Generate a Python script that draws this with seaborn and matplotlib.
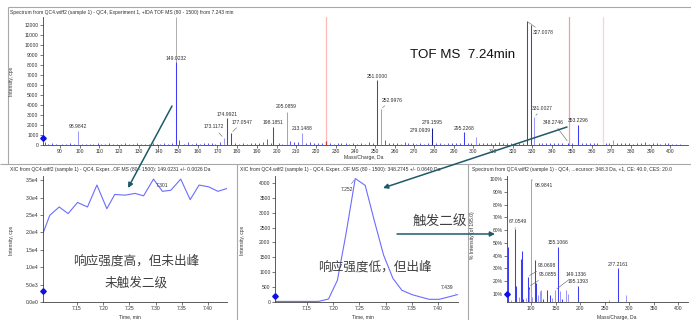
import matplotlib
matplotlib.use("Agg")
import matplotlib.pyplot as plt
import pandas as pd
import seaborn as sns

# ---------------- TOF MS survey scan, 7.243 min ----------------
ms1_mz = [98.9842, 149.0232, 173.1172, 174.9921, 177.0547, 198.1851, 205.0859,
          213.1488, 251.0000, 252.9976, 279.0939, 279.1595, 295.2268, 301.1,
          327.0078, 329.0050, 331.0027, 348.2746, 353.2296, 371.1]
ms1_int = [1400, 8300, 700, 2700, 1200, 1800, 3300,
           1200, 6500, 3600, 800, 1700, 1300, 800,
           12400, 12000, 2800, 250, 2000, 500]
ms1_tone = ["light", "strong", "light", "strong", "strong", "strong", "light",
            "light", "strong", "light", "strong", "dark", "strong", "light",
            "strong", "strong", "light", "strong", "strong", "light"]
ms1_labels = ["98.9842", "149.0232", "173.1172", "174.9921", "177.0547", "198.1851", "205.0859",
              "213.1488", "251.0000", "252.9976", "279.0939", "279.1595", "295.2268", "",
              "327.0078", "", "331.0027", "348.2746", "353.2296", ""]

# low-level background ions of the survey scan
noise_mz = [
    82.5, 84.1, 86.0, 88.2, 91.0, 93.1, 95.1, 97.0, 101.1, 103.0,
    105.1, 107.0, 109.1, 111.1, 113.0, 115.1, 117.0, 119.1, 121.0, 123.1,
    125.1, 127.0, 129.1, 131.0, 133.1, 135.0, 137.1, 139.1, 141.0, 143.1,
    145.0, 147.1, 150.5, 153.1, 155.1, 157.0, 159.1, 161.0, 163.1, 165.0,
    167.1, 169.0, 171.1, 179.1, 181.0, 183.1, 185.0, 187.1, 189.0, 191.1,
    193.0, 195.1, 197.0, 201.1, 203.0, 207.1, 209.0, 211.1, 215.0, 217.1,
    219.0, 221.1, 223.0, 227.1, 229.0, 231.1, 233.0, 235.1, 237.0, 239.1,
    241.0, 243.1, 245.0, 247.1, 249.0, 254.9, 257.1, 259.0, 261.1, 263.0,
    265.1, 267.0, 269.1, 271.0, 273.1, 275.0, 277.1, 281.0, 283.1, 285.0,
    287.1, 289.0, 291.1, 293.0, 297.1, 299.0, 303.1, 305.0, 307.1, 309.0,
    311.1, 313.0, 315.1, 317.0, 319.1, 321.0, 323.1, 325.0, 333.1, 335.0,
    337.1, 339.0, 341.1, 343.0, 345.1, 350.1, 355.0, 357.1, 359.0, 361.1,
    363.0, 367.1, 369.0, 373.1, 375.0, 377.1, 379.0, 381.1, 383.0, 385.1,
    387.0, 389.1, 391.0, 393.1, 395.0, 397.1, 399.0, 401.1, 403.0, 405.1,
]
noise_int = [
    260, 120, 180, 90, 140, 110, 160, 100, 130, 90,
    150, 110, 170, 90, 120, 180, 100, 140, 110, 160,
    90, 130, 170, 100, 150, 120, 200, 110, 140, 180,
    120, 160, 550, 150, 300, 130, 190, 110, 240, 160,
    200, 130, 280, 220, 150, 180, 120, 210, 170, 230,
    260, 580, 180, 200, 150, 380, 260, 300, 220, 320,
    180, 240, 160, 200, 140, 190, 160, 210, 130, 180,
    150, 200, 140, 260, 170, 480, 220, 160, 190, 140,
    280, 230, 170, 150, 200, 140, 180, 220, 170, 150,
    200, 160, 190, 170, 240, 180, 210, 160, 230, 180,
    200, 320, 170, 210, 160, 230, 190, 250, 240, 180,
    200, 160, 220, 190, 240, 210, 180, 200, 160, 220,
    180, 170, 230, 200, 160, 210, 180, 150, 200, 170,
    260, 150, 190, 170, 140, 180, 160, 130, 150, 120,
]

# extraction window markers drawn on the survey scan
window_mz = [225.2, 348.4, 365.6]
window_colors = ["#ffb8b8", "#e8a2a2", "#fcd2d2"]

# ---------------- XIC 149.0231 ----------------
xic1_time = [7.085, 7.098, 7.116, 7.133, 7.151, 7.170, 7.188, 7.207, 7.222, 7.242, 7.261,
             7.277, 7.296, 7.313, 7.329, 7.348, 7.366, 7.383, 7.401, 7.419, 7.436]
xic1_int = [19700, 24900, 27300, 25400, 28600, 27300, 33600, 26800, 30900, 30700, 31200,
            30500, 35300, 31800, 32100, 35300, 29400, 33600, 33100, 31800, 32600]
xic1_yticks = [0, 5000, 10000, 15000, 20000, 25000, 30000, 35000]
xic1_yticklabels = ["0.0e0", "5.0e3", "1.0e4", "1.5e4", "2.0e4", "2.5e4", "3.0e4", "3.5e4"]

# ---------------- XIC 348.2745 ----------------
xic2_time = [7.089, 7.104, 7.122, 7.141, 7.159, 7.172, 7.191, 7.208, 7.224, 7.242, 7.261,
             7.278, 7.296, 7.314, 7.331, 7.350, 7.366, 7.383, 7.402, 7.420, 7.437]
xic2_int = [20, 20, 20, 20, 20, 20, 100, 730, 2250, 4150, 3920,
            2760, 1580, 790, 394, 250, 170, 90, 90, 170, 250]

time_ticks = [7.15, 7.20, 7.25, 7.30, 7.35, 7.40]
time_ticklabels = ["7.15", "7.20", "7.25", "7.30", "7.35", "7.40"]

# ---------------- MS/MS of 348.3 ----------------
ms2_mz = [53.7, 58.4, 67.0549, 70.0, 75.5, 79.0, 81.0, 83.7, 89.1, 93.0698,
          95.0855, 96.0, 98.9841, 101.4, 108.2, 110.9, 115.0, 118.4, 121.2, 125.3,
          133.4, 138.2, 142.3, 149.1336, 155.1066, 159.3, 164.1, 172.3, 176.4, 195.1393,
          259.2, 277.2161, 294.6]
ms2_pct = [47, 5, 61, 16, 8, 37, 44, 6, 7, 23.6,
           15.7, 14, 100, 8, 36.6, 18.6, 9, 12, 13, 6,
           13, 9, 7, 13, 46.5, 12, 6, 13, 10, 16.3,
           5, 30, 9]
ms2_tone = ["strong", "light", "strong", "strong", "light", "strong", "strong", "strong", "light", "strong",
            "strong", "light", "light", "light", "strong", "strong", "light", "light", "light", "strong",
            "strong", "strong", "light", "light", "strong", "light", "strong", "light", "light", "strong",
            "light", "strong", "light"]
ms2_labels = ["", "", "67.0549", "", "", "", "", "", "", "93.0698",
              "95.0855", "", "98.9841", "", "", "", "", "", "", "",
              "", "", "", "149.1336", "155.1066", "", "", "", "", "195.1393",
              "", "277.2161", ""]
ms2_yticks = [10, 20, 30, 40, 50, 60, 70, 80, 90, 100]
ms2_yticklabels = ["10%", "20%", "30%", "40%", "50%", "60%", "70%", "80%", "90%", "100%"]

# ---------------- styling ----------------
sns.set_theme(style="ticks")
plt.rcParams["font.family"] = ["Liberation Sans", "Noto Sans CJK SC", "DejaVu Sans"]
plt.rcParams["axes.edgecolor"] = "#404040"
plt.rcParams["axes.linewidth"] = 0.6

TONES = {"strong": "#3c3cf4", "light": "#9c9cf8", "dark": "#1a1a9a"}
TEAL = "#1e5a69"
FRAME = "#a8a8a8"
SMALL = 3.6
TXT = "#303030"
CJK = ["Noto Sans CJK SC", "DejaVu Sans"]
MARK = "#1010e0"

# label offsets in pixels (dx, dy) from the apex, and whether a leader line is drawn
ms1_offsets = {
    "98.9842": (0, 5, False), "149.0232": (0, 4, False), "173.1172": (-10, 11, True),
    "174.9921": (0, 4, False), "177.0547": (11, 11, True), "198.1851": (0, 5, False),
    "205.0859": (0, 5, False), "213.1488": (0, 5, False), "251.0000": (0, 4, False),
    "252.9976": (11, 9, True), "279.0939": (-12, 6, True), "279.1595": (0, 5, False),
    "295.2268": (0, 4, False), "327.0078": (17, -12, True), "331.0027": (8, 9, True),
    "348.2746": (-15, 20, True), "353.2296": (0, 4, False),
}
ms2_offsets = {
    "67.0549": (3, 7, True), "93.0698": (19, 11, True), "95.0855": (19, 12, True),
    "98.9841": (13, -7, True), "149.1336": (21, 16, True), "155.1066": (0, 5, False),
    "195.1393": (0, 4, False), "277.2161": (0, 4, False),
}

W, H = 691, 320
fig = plt.figure(figsize=(W / 100, H / 100), dpi=100, facecolor="white")


def add_ax(l, t, r, b):
    return fig.add_axes([l / W, 1 - b / H, (r - l) / W, (b - t) / H])


def style_axes(ax):
    sns.despine(ax=ax)
    ax.set_facecolor("white")
    ax.tick_params(axis="both", labelsize=SMALL, length=2, width=0.5, pad=1.2,
                   colors="#404040", labelcolor=TXT)
    ax.grid(False)
    ax.set_xlabel("")
    ax.set_ylabel("")


def label_peaks(ax, mz, inten, labels, offsets):
    for x, y, s in zip(mz, inten, labels):
        if not s:
            continue
        dx, dy, leader = offsets[s]
        props = None
        if leader:
            props = dict(arrowstyle="-", color="#606060", lw=0.4, shrinkA=0, shrinkB=1.5)
        ax.annotate(s, xy=(x, y), xytext=(dx, dy), textcoords="offset pixels",
                    ha="center", va="center", fontsize=SMALL, color=TXT,
                    arrowprops=props, annotation_clip=False)


def threshold_marker(ax, level):
    ax.plot([0], [level], marker="D", ms=2.8, color=MARK,
            transform=ax.get_yaxis_transform(), clip_on=False, zorder=5)


# ---------------- survey spectrum ----------------
ax1 = add_ax(43, 17, 688, 145)
for x, c in zip(window_mz, window_colors):
    ax1.axvline(x, color=c, lw=0.9, zorder=1)
ax1.vlines([window_mz[0]], 0, 400, color="#e03030", lw=0.9, zorder=2)
ax1.vlines(noise_mz, 0, noise_int, color=TONES["strong"], lw=0.6, zorder=2)
ax1.vlines(ms1_mz, 0, ms1_int, colors=[TONES[t] for t in ms1_tone], lw=0.75, zorder=3)
ax1.vlines([ms1_mz[1]], ms1_int[1], 12800, color="#a0a0a0", lw=0.6, zorder=2)
ax1.set_xlim(81.4, 409.0)
ax1.set_ylim(0, 12800)
ax1.set_xticks(list(range(90, 410, 10)))
ax1.set_yticks(list(range(0, 13000, 1000)))
style_axes(ax1)
label_peaks(ax1, ms1_mz, ms1_int, ms1_labels, ms1_offsets)
threshold_marker(ax1, 700)

# ---------------- XIC 149 ----------------
ax2 = add_ax(43, 176, 227, 302)
sns.lineplot(x=xic1_time, y=xic1_int, ax=ax2, color="#6c6cff", lw=0.8)
ax2.set_xlim(7.0851, 7.4363)
ax2.set_ylim(0, 36200)
ax2.set_xticks(time_ticks)
ax2.set_xticklabels(time_ticklabels)
ax2.set_yticks(xic1_yticks)
ax2.set_yticklabels(xic1_yticklabels)
style_axes(ax2)
ax2.annotate("7.301", xy=(xic1_time[12], xic1_int[12]), xytext=(9, -6),
             textcoords="offset pixels", ha="center", va="center", fontsize=SMALL, color=TXT)
threshold_marker(ax2, 3200)

# ---------------- XIC 348 ----------------
ax3 = add_ax(275, 176, 458, 302)
sns.lineplot(x=xic2_time, y=xic2_int, ax=ax3, color="#6c6cff", lw=0.8)
ax3.set_xlim(7.089, 7.438)
ax3.set_ylim(0, 4235)
ax3.set_xticks(time_ticks)
ax3.set_xticklabels(time_ticklabels)
ax3.set_yticks(list(range(0, 4500, 500)))
style_axes(ax3)
lead = dict(arrowstyle="-", color="#606060", lw=0.4, shrinkA=0, shrinkB=1.5)
ax3.annotate("7.252", xy=(xic2_time[9], xic2_int[9]), xytext=(-8, -11),
             textcoords="offset pixels", ha="center", va="center", fontsize=SMALL,
             color=TXT, arrowprops=lead)
ax3.annotate("7.439", xy=(xic2_time[-1], xic2_int[-1]), xytext=(-10, 7),
             textcoords="offset pixels", ha="center", va="center", fontsize=SMALL,
             color=TXT, arrowprops=lead, annotation_clip=False)
threshold_marker(ax3, 200)

# ---------------- MS/MS ----------------
ax4 = add_ax(507, 176, 688, 302)
ax4.vlines(ms2_mz, 0, ms2_pct, colors=[TONES[t] for t in ms2_tone], lw=0.75)
ax4.set_xlim(50.9, 420.4)
ax4.set_ylim(3.74, 102.3)
ax4.set_xticks(list(range(100, 450, 50)))
ax4.set_yticks(ms2_yticks)
ax4.set_yticklabels(ms2_yticklabels)
style_axes(ax4)
label_peaks(ax4, ms2_mz, ms2_pct, ms2_labels, ms2_offsets)
threshold_marker(ax4, 10)

# ---------------- frames, titles, notes and arrows (pixel space) ----------------
ov = fig.add_axes([0, 0, 1, 1], zorder=10)
ov.set_xlim(0, W)
ov.set_ylim(H, 0)
ov.set_axis_off()

for xs, ys in [((8, 691), (7, 7)), ((8, 8), (7, 164)), ((0, 691), (164, 164)),
               ((237, 237), (164, 320)), ((468, 468), (164, 320))]:
    ov.plot(xs, ys, color=FRAME, lw=0.8, solid_capstyle="butt")

titles = [
    (10, 12.5, "Spectrum from QC4.wiff2 (sample 1) - QC4, Experiment 1, +IDA TOF MS (80 - 1500) from 7.243 min"),
    (10, 170, "XIC from QC4.wiff2 (sample 1) - QC4, Exper...OF MS (80 - 1500): 149.0231 +/- 0.0026 Da"),
    (240, 170, "XIC from QC4.wiff2 (sample 1) - QC4, Exper...OF MS (80 - 1500): 348.2745 +/- 0.0640 Da"),
    (472, 170, "Spectrum from QC4.wiff2 (sample 1) - QC4, ...ecursor: 348.3 Da, +1, CE: 40.0, CES: 20.0"),
]
for x, y, s in titles:
    ov.text(x, y, s, ha="left", va="center", fontsize=SMALL, color=TXT)

for x, y, s in [(12, 81, "Intensity, cps"), (12, 240, "Intensity, cps"),
                (243, 240, "Intensity, cps"), (473, 235, "% Intensity (of 195.0)")]:
    ov.text(x, y, s, ha="center", va="center", rotation=90, fontsize=SMALL, color=TXT)
for x, y, s in [(364, 158, "Mass/Charge, Da"), (130, 317, "Time, min"),
                (363, 317, "Time, min"), (617, 317, "Mass/Charge, Da")]:
    ov.text(x, y, s, ha="center", va="center", fontsize=SMALL, color=TXT)

ov.text(463, 55, "TOF MS  7.24min", ha="center", va="center", fontsize=9.6, color="#111111")
ov.text(136, 261, "响应强度高，但未出峰", ha="center", va="center", fontsize=9.1,
        color="#404040", family=CJK)
ov.text(136, 283, "未触发二级", ha="center", va="center", fontsize=9.1,
        color="#404040", family=CJK)
ov.text(375, 267, "响应强度低，但出峰", ha="center", va="center", fontsize=9.1,
        color="#404040", family=CJK)
ov.text(440, 222, "触发二级", ha="center", va="center", fontsize=9.8,
        color="#404040", family=CJK)

arrow = dict(arrowstyle="-|>", color=TEAL, lw=1.1, mutation_scale=7, shrinkA=0, shrinkB=0)
ov.annotate("", xy=(128, 188), xytext=(172, 106), arrowprops=arrow)
ov.annotate("", xy=(383, 188), xytext=(567, 127), arrowprops=arrow)
ov.annotate("", xy=(495, 234), xytext=(397, 234), arrowprops=arrow)

fig.savefig("out.png", dpi=100, facecolor="white")
